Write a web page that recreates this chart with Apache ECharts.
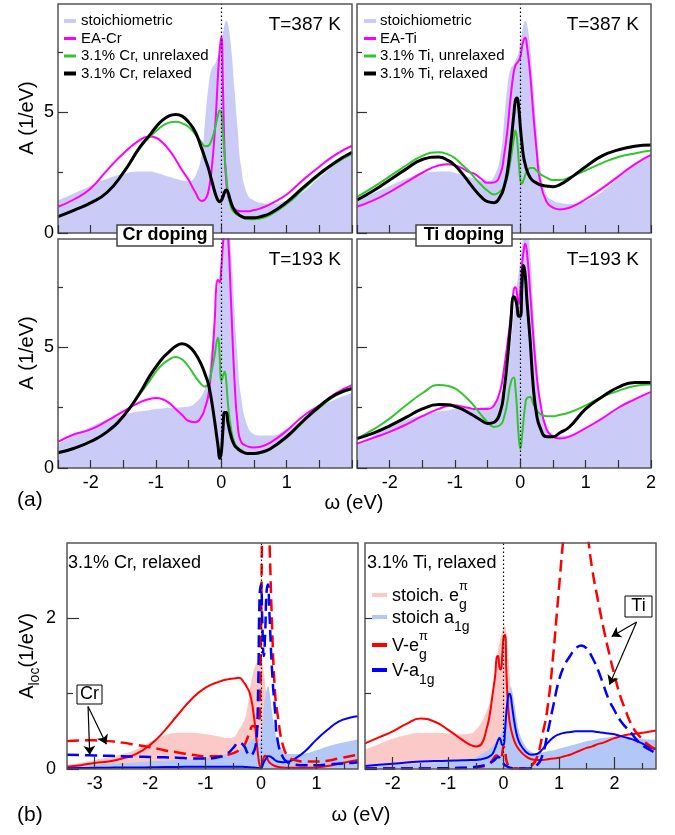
<!DOCTYPE html>
<html><head><meta charset="utf-8">
<script src="https://cdn.jsdelivr.net/npm/echarts@6/dist/echarts.min.js"></script>
<style>html,body{margin:0;padding:0;background:#fff}#c{width:675px;height:835px}</style>
</head><body><div id="c"></div>
<script>
const FONT = "'Liberation Sans', Arial, Helvetica, sans-serif";

// ---------- panel (a): x grid (eV) ----------
const xA = [-2.5,-2.25,-2,-1.75,-1.5,-1.25,-1.1,-1,-0.9,-0.8,-0.7,-0.6,-0.5,-0.4,-0.3,-0.25,-0.2,-0.15,-0.1,-0.075,-0.05,-0.025,0,0.025,0.05,0.075,0.1,0.15,0.2,0.25,0.3,0.4,0.5,0.6,0.75,1,1.25,1.5,1.75,2];

// T = 387 K
const stoich387 = [1.35,1.65,1.95,2.25,2.45,2.55,2.55,2.5,2.42,2.33,2.25,2.18,2.15,2.35,3.3,4.6,6.0,6.8,7.0,7.15,7.3,7.55,7.9,8.3,8.65,8.8,8.7,7.7,6.0,4.3,2.8,1.6,1.35,1.25,1.2,1.35,1.7,2.3,2.85,3.3];
const eaCr387   = [1.09,1.4,1.85,2.6,3.3,3.85,4.0,3.95,3.75,3.45,3.05,2.6,2.2,1.7,1.33,1.38,1.7,2.6,4.2,5.3,6.6,7.6,8.15,6.0,3.3,2.2,1.6,1.2,1.0,0.92,0.9,0.9,0.95,1.02,1.2,1.6,2.2,2.75,3.25,3.62];
const unrCr387  = [0.68,0.95,1.25,1.68,2.5,3.5,3.98,4.22,4.45,4.58,4.62,4.55,4.4,4.1,3.75,3.6,3.62,3.85,4.3,4.6,4.9,5.08,5.0,4.2,3.2,2.4,1.75,1.05,0.85,0.75,0.68,0.58,0.57,0.6,0.75,1.2,1.8,2.4,2.9,3.28];
const relCr387  = [0.68,0.95,1.25,1.68,2.5,3.55,4.05,4.4,4.68,4.86,4.92,4.85,4.6,4.2,3.5,3.1,2.7,2.2,1.7,1.5,1.35,1.3,1.35,1.5,1.7,1.78,1.7,1.25,0.95,0.8,0.7,0.63,0.63,0.68,0.82,1.28,1.88,2.45,2.95,3.35];
const eaTi387   = [1.09,1.35,1.7,2.1,2.5,2.8,2.85,2.8,2.7,2.55,2.45,2.25,2.08,2.1,2.5,3.2,4.2,5.6,6.7,6.95,7.05,7.15,7.3,7.7,8.0,8.1,7.8,6.6,4.9,3.4,2.2,1.3,1.05,0.98,1.05,1.4,1.85,2.35,2.85,3.24];
const unrTi387  = [1.5,1.9,2.35,2.8,3.2,3.35,3.25,3.1,2.85,2.6,2.3,2.0,1.75,1.6,1.75,1.95,2.3,3.0,3.9,4.25,3.9,3.0,2.2,2.05,2.2,2.4,2.55,2.7,2.7,2.58,2.45,2.3,2.2,2.2,2.3,2.6,2.9,3.15,3.3,3.42];
const relTi387  = [1.37,1.75,2.2,2.65,3.05,3.15,3.0,2.8,2.5,2.15,1.8,1.5,1.3,1.26,1.55,1.9,2.5,3.6,4.9,5.5,5.6,5.2,4.4,3.7,3.15,2.85,2.6,2.3,2.15,2.07,2.0,1.95,1.92,2.0,2.25,2.75,3.2,3.45,3.6,3.65];

// T = 193 K
const stoich193 = [1.0,1.35,1.7,2.0,2.2,2.35,2.4,2.45,2.47,2.5,2.5,2.52,2.55,2.7,3.0,3.3,3.8,5.0,6.4,7.0,7.6,8.1,8.6,9.2,9.7,10.0,10.0,8.9,6.6,4.5,3.0,1.75,1.4,1.35,1.35,1.6,2.0,2.5,2.85,3.1];
const eaCr193   = [1.08,1.4,1.6,1.95,2.35,2.72,2.86,2.9,2.85,2.7,2.45,2.2,1.95,1.9,2.15,2.5,3.0,4.2,6.2,7.6,7.8,7.7,8.3,9.3,10.0,10.2,9.8,6.8,3.7,1.8,1.1,0.9,0.85,0.88,1.05,1.55,2.15,2.6,3.1,3.44];
const unrCr193  = [0.63,0.82,1.1,1.5,2.15,3.05,3.6,4.0,4.3,4.5,4.6,4.5,4.2,3.8,3.45,3.38,3.5,4.0,4.7,5.2,5.4,4.6,3.6,3.8,4.0,3.6,2.7,1.6,1.05,0.85,0.75,0.6,0.58,0.62,0.78,1.25,1.9,2.5,3.0,3.28];
const relCr193  = [0.63,0.82,1.1,1.5,2.15,3.1,3.8,4.2,4.55,4.82,5.05,5.15,5.05,4.75,4.25,3.9,3.5,2.8,1.9,1.4,0.9,0.4,0.65,1.6,2.3,2.3,1.9,1.3,0.95,0.8,0.7,0.6,0.6,0.65,0.8,1.3,1.95,2.55,3.05,3.3];
const eaTi193   = [1.01,1.25,1.5,1.8,2.15,2.45,2.58,2.6,2.55,2.5,2.45,2.45,2.45,2.6,3.3,4.1,5.1,6.2,7.4,7.5,7.2,6.8,7.4,8.4,9.0,9.3,9.0,7.3,5.4,3.85,2.8,1.6,1.3,1.22,1.3,1.65,2.05,2.5,2.85,3.16];
const unrTi193  = [1.22,1.6,2.05,2.6,3.1,3.44,3.4,3.3,3.1,2.85,2.55,2.2,1.9,1.7,1.8,2.1,2.7,3.5,3.75,3.3,2.4,1.3,0.8,1.3,2.0,2.6,2.9,2.95,2.65,2.4,2.25,2.15,2.15,2.2,2.3,2.6,2.95,3.2,3.4,3.46];
const relTi193  = [1.22,1.45,1.75,2.1,2.45,2.63,2.62,2.55,2.45,2.3,2.15,1.98,1.85,1.9,2.4,3.2,4.4,5.9,7.1,7.0,6.7,6.3,6.3,7.6,8.4,8.0,7.0,5.3,3.3,2.2,1.7,1.3,1.3,1.45,1.7,2.45,2.95,3.35,3.55,3.55];

// ---------- panel (b), left: 3.1% Cr relaxed ----------
const xB1 = [-3.5,-3.25,-3,-2.75,-2.5,-2.25,-2,-1.75,-1.5,-1.25,-1,-0.75,-0.6,-0.5,-0.4,-0.3,-0.25,-0.2,-0.15,-0.1,-0.075,-0.05,-0.025,0,0.025,0.05,0.075,0.1,0.125,0.15,0.2,0.25,0.3,0.4,0.5,0.6,0.8,1,1.2,1.4,1.6,1.75];
const stEgL  = [0.06,0.08,0.12,0.16,0.2,0.26,0.36,0.44,0.48,0.48,0.46,0.43,0.41,0.42,0.52,0.65,0.8,1.05,1.25,1.38,1.42,1.45,1.45,1.42,1.38,1.3,1.15,0.95,0.75,0.55,0.3,0.18,0.1,0.05,0.03,0.02,0.02,0.02,0.02,0.02,0.02,0.02];
const stA1L  = [0.04,0.05,0.06,0.07,0.08,0.09,0.1,0.11,0.12,0.13,0.15,0.18,0.2,0.21,0.25,0.3,0.33,0.37,0.4,0.42,0.42,0.4,0.35,0.4,0.6,0.8,0.95,1.05,1.1,1.05,0.75,0.52,0.38,0.24,0.2,0.2,0.21,0.25,0.3,0.34,0.37,0.39];
const vEgL   = [0.03,0.05,0.08,0.1,0.14,0.2,0.32,0.5,0.72,0.93,1.08,1.16,1.19,1.2,1.21,1.14,1.08,1.0,0.82,0.52,0.33,0.17,0.05,0.02,0.08,0.15,0.18,0.16,0.12,0.09,0.06,0.04,0.03,0.02,0.015,0.015,0.015,0.02,0.04,0.07,0.1,0.12];
const vA1L   = [0.01,0.012,0.015,0.017,0.02,0.02,0.022,0.025,0.027,0.03,0.03,0.03,0.03,0.03,0.03,0.028,0.025,0.022,0.02,0.018,0.015,0.012,0.008,0.005,0.04,0.09,0.12,0.15,0.17,0.17,0.15,0.12,0.1,0.09,0.1,0.13,0.24,0.39,0.52,0.63,0.68,0.7];
const crEgL  = [0.37,0.38,0.38,0.37,0.35,0.32,0.29,0.25,0.22,0.19,0.17,0.17,0.19,0.21,0.25,0.32,0.4,0.5,0.57,0.56,0.55,0.6,0.65,1.8,3.4,4.0,4.2,4.0,3.6,3.1,1.9,1.05,0.72,0.3,0.16,0.12,0.1,0.1,0.11,0.14,0.17,0.19];
const crA1L  = [0.19,0.185,0.18,0.175,0.17,0.165,0.16,0.155,0.15,0.14,0.14,0.16,0.21,0.28,0.35,0.3,0.22,0.18,0.2,0.3,0.45,1.1,2.3,2.45,1.9,1.5,1.8,2.35,2.45,2.1,1.3,0.8,0.38,0.15,0.08,0.06,0.05,0.05,0.06,0.07,0.08,0.09];

// ---------- panel (b), right: 3.1% Ti relaxed ----------
const xB2 = [-2.5,-2.25,-2,-1.75,-1.5,-1.25,-1,-0.75,-0.6,-0.5,-0.4,-0.3,-0.25,-0.2,-0.15,-0.125,-0.1,-0.075,-0.05,-0.025,0,0.025,0.05,0.075,0.1,0.125,0.15,0.2,0.25,0.3,0.4,0.5,0.6,0.7,0.8,0.9,1,1.1,1.2,1.3,1.4,1.5,1.6,1.7,1.8,1.9,2,2.1,2.2,2.3,2.4,2.5,2.6,2.75];
const stEgR  = [0.26,0.33,0.4,0.45,0.48,0.48,0.47,0.46,0.47,0.52,0.62,0.78,0.88,1.05,1.3,1.45,1.58,1.68,1.76,1.82,1.88,1.9,1.8,1.6,1.35,1.1,0.85,0.5,0.28,0.17,0.08,0.05,0.04,0.03,0.03,0.03,0.03,0.02,0.02,0.02,0.02,0.02,0.02,0.02,0.02,0.02,0.02,0.02,0.02,0.02,0.02,0.02,0.02,0.02];
const stA1R  = [0.03,0.04,0.05,0.06,0.07,0.08,0.1,0.11,0.13,0.15,0.2,0.24,0.27,0.3,0.35,0.37,0.4,0.43,0.46,0.5,0.55,0.7,0.85,0.98,1.07,1.1,1.05,0.85,0.6,0.45,0.3,0.23,0.21,0.22,0.24,0.25,0.27,0.29,0.31,0.33,0.35,0.37,0.38,0.4,0.41,0.42,0.43,0.43,0.43,0.42,0.41,0.4,0.39,0.39];
const vEgR   = [0.34,0.42,0.5,0.6,0.67,0.63,0.52,0.39,0.32,0.3,0.33,0.55,0.72,0.98,1.25,1.48,1.5,1.35,1.32,1.5,1.75,1.78,1.3,0.9,0.68,0.56,0.48,0.36,0.29,0.24,0.17,0.13,0.12,0.12,0.13,0.14,0.15,0.17,0.19,0.22,0.25,0.28,0.3,0.33,0.35,0.38,0.41,0.43,0.45,0.46,0.47,0.48,0.49,0.51];
const vA1R   = [0.04,0.055,0.07,0.085,0.1,0.105,0.11,0.115,0.12,0.12,0.13,0.15,0.17,0.2,0.28,0.33,0.38,0.41,0.38,0.32,0.32,0.5,0.75,0.92,1.0,0.98,0.85,0.6,0.42,0.33,0.23,0.19,0.2,0.26,0.35,0.42,0.46,0.48,0.49,0.5,0.5,0.5,0.5,0.49,0.48,0.47,0.46,0.44,0.42,0.4,0.37,0.34,0.3,0.26];
const tiEgR  = [0.005,0.005,0.005,0.005,0.005,0.008,0.01,0.012,0.015,0.02,0.03,0.05,0.07,0.12,0.17,0.18,0.17,0.15,0.14,0.2,0.3,0.25,0.12,0.06,0.04,0.03,0.02,0.01,0.008,0.006,0.01,0.04,0.15,0.45,0.85,1.55,2.4,3.2,3.7,3.9,3.7,3.2,2.65,2.25,1.88,1.55,1.25,0.98,0.78,0.6,0.48,0.4,0.33,0.26];
const tiA1R  = [0.005,0.005,0.005,0.006,0.007,0.008,0.01,0.015,0.02,0.03,0.04,0.06,0.08,0.1,0.13,0.15,0.16,0.15,0.12,0.09,0.07,0.05,0.04,0.03,0.02,0.015,0.01,0.006,0.005,0.005,0.005,0.01,0.05,0.18,0.5,0.85,1.18,1.38,1.5,1.6,1.64,1.6,1.48,1.32,1.12,0.92,0.78,0.65,0.56,0.48,0.39,0.32,0.27,0.21];

// tick labels
const xTicksA = [-2,-1,0,1,2];
const xTicksBL = [-3,-2,-1,0,1];
const xTicksBR = [-2,-1,0,1,2];
const yTicksA = [0,5];
const yTicksB = [0,2];

// ---------- colours ----------
const C = {lav:'#cbcbf7', mag:'#ff00ff', grn:'#33c433', blk:'#000000',
           pink:'#fcc9c9', lblue:'#b3c8f6', red:'#ff0000', blue:'#0000ff'};

function pairs(xs, ys){ return xs.map((x,i)=>[x, ys[i]]); }

const grids = [
  {left:58, top:4, width:294, height:229},
  {left:357, top:4, width:294, height:229},
  {left:58, top:239, width:294, height:229},
  {left:357, top:239, width:294, height:229},
  {left:67, top:543, width:291, height:226},
  {left:365, top:543, width:291, height:226}
].map(g => Object.assign({show:true, borderColor:'#555', borderWidth:1.5, backgroundColor:'transparent', z:10, containLabel:false}, g));

const tickStyle = {color:'#333', width:1.2};
const xAxes = [], yAxes = [];
function fmt(labels){ return v => { const r = Math.round(v*1000)/1000; return labels.indexOf(r) >= 0 ? String(r) : ''; }; }
function xPair(gi, min, max, major, minor, labels, lenMaj, lenMin, step){
  const base = {gridIndex:gi, type:'value', min, max, interval:step, position:'bottom', axisLine:{show:false, onZero:false}, splitLine:{show:false}, z:12};
  xAxes.push(Object.assign({}, base, {
    axisTick:{show:true, inside:true, length:lenMaj, customValues:major, lineStyle:tickStyle},
    axisLabel:{show:labels.length>0, customValues:labels, fontSize:18, fontFamily:FONT, color:'#000', margin:6, formatter:fmt(labels)}
  }));
  xAxes.push(Object.assign({}, base, {
    axisTick:{show:true, inside:true, length:lenMin, customValues:minor, lineStyle:tickStyle},
    axisLabel:{show:false}
  }));
}
function yPair(gi, min, max, major, minor, labels, lenMaj, lenMin, step, margin){
  const base = {gridIndex:gi, type:'value', min, max, interval:step, position:'left', axisLine:{show:false, onZero:false}, splitLine:{show:false}, z:12};
  yAxes.push(Object.assign({}, base, {
    axisTick:{show:true, inside:true, length:lenMaj, customValues:major, lineStyle:tickStyle},
    axisLabel:{show:labels.length>0, customValues:labels, fontSize:18, fontFamily:FONT, color:'#000', margin:margin, formatter:fmt(labels)}
  }));
  yAxes.push(Object.assign({}, base, {
    axisTick:{show:true, inside:true, length:lenMin, customValues:minor, lineStyle:tickStyle},
    axisLabel:{show:false}
  }));
}
const halfA = [-2.5,-1.5,-0.5,0.5,1.5];
xPair(0, -2.5, 2, [-2,-1,0,1,2], halfA, [], 8, 8, 0.5);
xPair(1, -2.5, 2, [-2,-1,0,1,2], halfA, [], 8, 8, 0.5);
xPair(2, -2.5, 2, [-2,-1,0,1,2], halfA, xTicksA.slice(0,4), 8, 8, 0.5);
xPair(3, -2.5, 2, [-2,-1,0,1,2], halfA, xTicksA, 8, 8, 0.5);
xPair(4, -3.5, 1.75, xTicksBL, [-2.5,-1.5,-0.5,0.5,1.5], xTicksBL, 12, 6, 0.5);
xPair(5, -2.5, 2.75, xTicksBR, [-1.5,-0.5,0.5,1.5,2.5], xTicksBR, 12, 6, 0.5);
yPair(0, 0, 9.5, yTicksA, [2.5,7.5], yTicksA, 10, 5, 2.5, 4);
yPair(1, 0, 9.5, yTicksA, [2.5,7.5], [], 10, 5, 2.5, 4);
yPair(2, 0, 9.5, yTicksA, [2.5,7.5], yTicksA, 10, 5, 2.5, 4);
yPair(3, 0, 9.5, yTicksA, [2.5,7.5], [], 10, 5, 2.5, 4);
yPair(4, 0, 3, yTicksB, [1], yTicksB, 12, 6, 1, 11);
yPair(5, 0, 3, yTicksB, [1], [], 12, 6, 1, 11);

const zeroLine = {silent:true, symbol:['none','none'], label:{show:false}, animation:false,
  lineStyle:{color:'#000', type:[1.5,2.5], width:1.2}, data:[{xAxis:0}]};

const SMOOTH = 0.5;
function line(gi, name, xs, ys, color, width, dash, extra){
  return Object.assign({type:'line', name, xAxisIndex:2*gi, yAxisIndex:2*gi, data:pairs(xs,ys),
    showSymbol:false, symbol:'none', smooth:SMOOTH, silent:true, z:3,
    lineStyle:{color, width, type: dash || 'solid', join:'round'}, itemStyle:{color}}, extra || {});
}
function area(gi, name, xs, ys, color, extra){
  return Object.assign({type:'line', name, xAxisIndex:2*gi, yAxisIndex:2*gi, data:pairs(xs,ys),
    showSymbol:false, symbol:'none', smooth:SMOOTH, silent:true, z:2,
    lineStyle:{width:0, color}, itemStyle:{color}, areaStyle:{color, opacity:1}}, extra || {});
}
const dash = [12,6];
const arrowStyle = {color:'#000', width:1.2, type:'solid'};
const series = [
  area(0,'stoichiometric',xA,stoich387,C.lav,{markLine:zeroLine}),
  line(0,'EA-Cr',xA,eaCr387,C.mag,2),
  line(0,'3.1% Cr, unrelaxed',xA,unrCr387,C.grn,2),
  line(0,'3.1% Cr, relaxed',xA,relCr387,C.blk,3),
  area(1,'stoichiometric',xA,stoich387,C.lav,{markLine:zeroLine}),
  line(1,'EA-Ti',xA,eaTi387,C.mag,2),
  line(1,'3.1% Ti, unrelaxed',xA,unrTi387,C.grn,2),
  line(1,'3.1% Ti, relaxed',xA,relTi387,C.blk,3),
  area(2,'stoichiometric',xA,stoich193,C.lav,{markLine:zeroLine}),
  line(2,'EA-Cr',xA,eaCr193,C.mag,2),
  line(2,'3.1% Cr, unrelaxed',xA,unrCr193,C.grn,2),
  line(2,'3.1% Cr, relaxed',xA,relCr193,C.blk,3),
  area(3,'stoichiometric',xA,stoich193,C.lav,{markLine:zeroLine}),
  line(3,'EA-Ti',xA,eaTi193,C.mag,2),
  line(3,'3.1% Ti, unrelaxed',xA,unrTi193,C.grn,2),
  line(3,'3.1% Ti, relaxed',xA,relTi193,C.blk,3),
  area(4,'stoich. eg',xB1,stEgL,C.pink),
  area(4,'stoich a1g',xB1,stA1L,C.lblue,{markLine:zeroLine}),
  line(4,'V-eg',xB1,vEgL,C.red,2),
  line(4,'V-a1g',xB1,vA1L,C.blue,2),
  line(4,'Cr-eg',xB1,crEgL,C.red,2.5,dash,{markLine:{silent:true, animation:false, symbol:['none','arrow'], symbolSize:9, label:{show:false}, lineStyle:arrowStyle,
     data:[[{coord:[-3.12,0.83]},{coord:[-3.09,0.19]}],[{coord:[-3.12,0.83]},{coord:[-2.79,0.33]}]]}}),
  line(4,'Cr-a1g',xB1,crA1L,C.blue,2.5,dash),
  area(5,'stoich. eg',xB2,stEgR,C.pink),
  area(5,'stoich a1g',xB2,stA1R,C.lblue,{markLine:zeroLine}),
  line(5,'V-eg',xB2,vEgR,C.red,2),
  line(5,'V-a1g',xB2,vA1R,C.blue,2),
  line(5,'Ti-eg',xB2,tiEgR,C.red,2.5,dash,{markLine:{silent:true, animation:false, symbol:['none','arrow'], symbolSize:9, label:{show:false}, lineStyle:arrowStyle,
     data:[[{coord:[2.4,1.95]},{coord:[1.95,1.76]}],[{coord:[2.4,1.95]},{coord:[1.91,1.12]}]]}}),
  line(5,'Ti-a1g',xB2,tiA1R,C.blue,2.5,dash)
];

// ---------- annotations ----------
const G = [];
function txt(x, y, text, size, align, extra){
  G.push(Object.assign({type:'text', x, y, z:100, silent:true,
    style:{text, fontSize:size, fontFamily:FONT, fill:'#000', align:align||'left', verticalAlign:'middle'}}, extra||{}));
}
function box(x, y, w, h, stroke, lw){
  G.push({type:'rect', z:99, silent:true, shape:{x, y, width:w, height:h}, style:{fill:'#fff', stroke, lineWidth:lw}});
}
function sample(x, y, w, h, color){
  G.push({type:'rect', z:100, silent:true, shape:{x, y:y-h/2, width:w, height:h}, style:{fill:color}});
}
txt(341, 25, 'T=387 K', 19, 'right');
txt(639, 25, 'T=387 K', 19, 'right');
txt(341, 260, 'T=193 K', 19, 'right');
txt(639, 260, 'T=193 K', 19, 'right');
txt(27, 118, 'A (1/eV)', 20, 'center', {rotation:Math.PI/2});
txt(27, 353, 'A (1/eV)', 20, 'center', {rotation:Math.PI/2});
txt(354, 503, 'ω (eV)', 20, 'center');
txt(17, 500, '(a)', 21, 'left');
txt(17, 815, '(b)', 21, 'left');
txt(361, 815, 'ω (eV)', 20, 'center');
G.push({type:'text', x:27, y:656, z:100, rotation:Math.PI/2, silent:true,
  style:{text:'{n|A}{s|loc}{n|(1/eV)}', align:'center', verticalAlign:'middle',
    rich:{n:{fontSize:20, fontFamily:FONT, fill:'#000', lineHeight:30},
          s:{fontSize:14, fontFamily:FONT, fill:'#000', lineHeight:30, verticalAlign:'bottom'}}}});
txt(68, 563, '3.1% Cr, relaxed', 18, 'left');
txt(367, 563, '3.1% Ti, relaxed', 18, 'left');

box(117, 225, 96, 21, '#444', 1.5);
txt(165, 235.5, 'Cr doping', 18, 'center', {style:{text:'Cr doping', fontSize:18, fontWeight:'bold', fontFamily:FONT, fill:'#000', align:'center', verticalAlign:'middle'}});
box(416, 225, 96, 21, '#444', 1.5);
txt(464, 235.5, 'Ti doping', 18, 'center', {style:{text:'Ti doping', fontSize:18, fontWeight:'bold', fontFamily:FONT, fill:'#000', align:'center', verticalAlign:'middle'}});
box(77, 685, 25, 19, '#000', 1);
txt(89.5, 694.5, 'Cr', 18, 'center');
box(625, 596, 27, 21, '#000', 1);
txt(638.5, 606.5, 'Ti', 18, 'center');

// top legends
const legRows = [21, 38.5, 56, 73.5];
const legCr = ['stoichiometric','EA-Cr','3.1% Cr, unrelaxed','3.1% Cr, relaxed'];
const legTi = ['stoichiometric','EA-Ti','3.1% Ti, unrelaxed','3.1% Ti, relaxed'];
const legCol = [C.lav, C.mag, C.grn, C.blk];
const legH = [4, 3, 3, 4];
legRows.forEach((y,i)=>{
  sample(64, y, 12, legH[i], legCol[i]); txt(81, y, legCr[i], 15, 'left');
  sample(364, y, 12, legH[i], legCol[i]); txt(380, y, legTi[i], 15, 'left');
});
// panel (b) legend
const richB = {m:{fontSize:18, fontFamily:FONT, fill:'#000', lineHeight:32},
               p:{fontSize:13, fontFamily:FONT, fill:'#000', lineHeight:32, verticalAlign:'top', width:0},
               g:{fontSize:14, fontFamily:FONT, fill:'#000', lineHeight:32, verticalAlign:'bottom'}};
const bRows = [595, 617, 645, 670];
const bText = ['{m|stoich. e}{p|π}{g|g}', '{m|stoich a}{g|1g}', '{m|V-e}{p|π}{g|g}', '{m|V-a}{g|1g}'];
const bCol = [C.pink, C.lblue, C.red, C.blue];
bRows.forEach((y,i)=>{
  sample(372, y, 15, 4, bCol[i]);
  G.push({type:'text', x:392, y:y+1, z:100, silent:true, style:{text:bText[i], align:'left', verticalAlign:'middle', rich:richB}});
});

const chart = echarts.init(document.getElementById('c'), null, {renderer:'canvas'});
chart.setOption({animation:false, backgroundColor:'#fff', grid:grids, xAxis:xAxes, yAxis:yAxes, series, graphic:G});
</script></body></html>
